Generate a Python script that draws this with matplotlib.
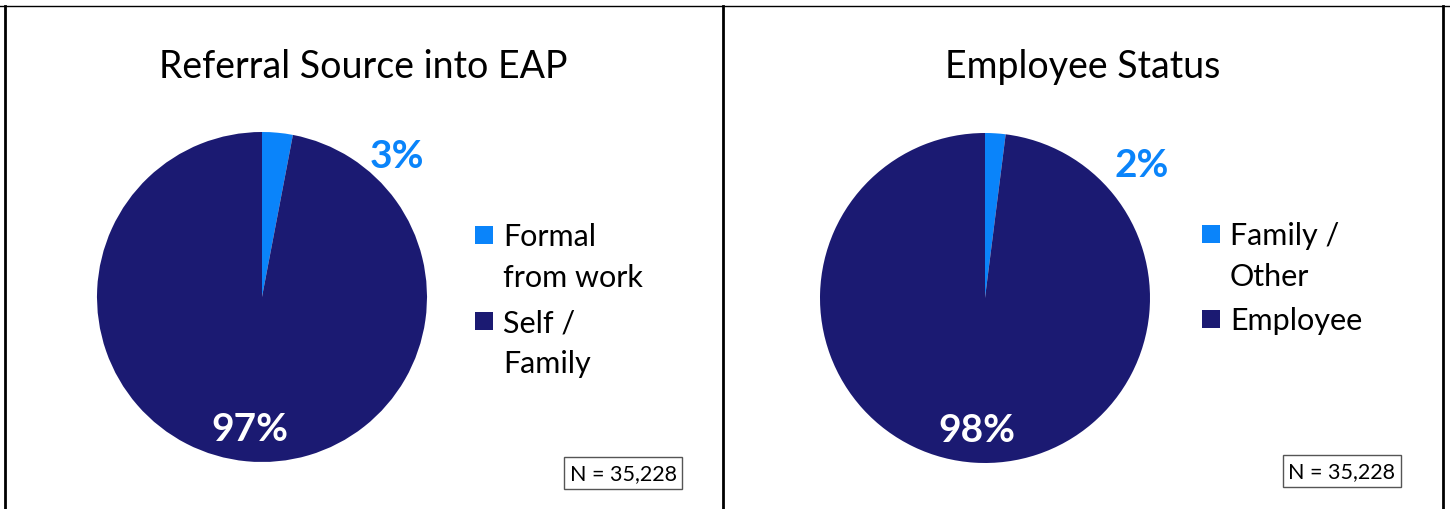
import numpy as np
import matplotlib
matplotlib.use('Agg')
import matplotlib.pyplot as plt
from matplotlib.patches import Rectangle
from matplotlib.lines import Line2D

plt.rcParams['font.family'] = ['Lato', 'DejaVu Sans']

#==============================================================================
'''DATOS'''
#==============================================================================

titles = ['Referral Source into EAP', 'Employee Status']
labels_left = ['Formal\nfrom work', 'Self /\nFamily']
labels_right = ['Family /\nOther', 'Employee']
values_left = [3, 97]
values_right = [2, 98]
n_text = 'N = 35,228'

light = '#0A84FA'
dark = '#1B1A72'

W, H = 1450, 510
fig = plt.figure(figsize=(W / 100, H / 100), dpi=100)


def px_axes(cx, cy, r):
    # axes square in pixel coords, centre cx, cy (from top)
    return fig.add_axes([(cx - r) / W, (H - cy - r) / H, 2 * r / W, 2 * r / H])


def panel(cx_pie, cy_pie, vals, labels, title, title_x, small_xy, leg_x, leg_base, box_xy):
    ax = px_axes(cx_pie, cy_pie, 165)
    wedges, texts, autotexts = ax.pie(vals, colors=[light, dark], startangle=90,
                                      counterclock=False, radius=1,
                                      autopct=lambda p: '%d%%' % round(p),
                                      pctdistance=0.8,
                                      wedgeprops=dict(linewidth=0))
    ax.set_xlim(-1, 1)
    ax.set_ylim(-1, 1)
    ax.set_aspect('equal')
    ax.axis('off')
    for t in autotexts:
        t.set_fontsize(28)
        t.set_fontweight('bold')
        t.set_color('white')
    # small slice label moved outside
    autotexts[0].set_color(light)
    autotexts[0].set_position(((small_xy[0] - cx_pie) / 165, (cy_pie - small_xy[1]) / 165))

    fig.text(title_x / W, 1 - 67 / H, title, ha='center', va='center', fontsize=27)

    # legend
    for i, lab in enumerate(labels):
        yb = leg_base[i]
        fig.patches.append(Rectangle(((leg_x) / W, 1 - (yb - 1) / H), 18 / W, 18 / H,
                                     transform=fig.transFigure, facecolor=[light, dark][i],
                                     edgecolor='none'))
        for j, line in enumerate(lab.split('\n')):
            fig.text((leg_x + 28) / W, 1 - (yb + j * 41) / H, line,
                     ha='left', va='baseline', fontsize=22)

    fig.text(box_xy[0] / W, 1 - box_xy[1] / H, n_text, ha='center', va='center',
             fontsize=15.5,
             bbox=dict(boxstyle='square,pad=0.27', facecolor='white',
                       edgecolor='#555555', linewidth=1))


panel(262, 298, values_left, labels_left, titles[0], 363, (397, 157),
      475, [246, 332], (623, 474))
panel(985, 299, values_right, labels_right, titles[1], 1083, (1142, 166),
      1202, [245, 330], (1342, 472))

# borders
fig.lines.append(Line2D([0, 1], [1 - 7 / H, 1 - 7 / H], transform=fig.transFigure,
                        color='black', linewidth=1))
for xb in [4.5, 723, 1443]:
    fig.lines.append(Line2D([xb / W, xb / W], [0, 1 - 7 / H], transform=fig.transFigure,
                            color='black', linewidth=2))

fig.savefig('out.png', dpi=100, facecolor='white')
